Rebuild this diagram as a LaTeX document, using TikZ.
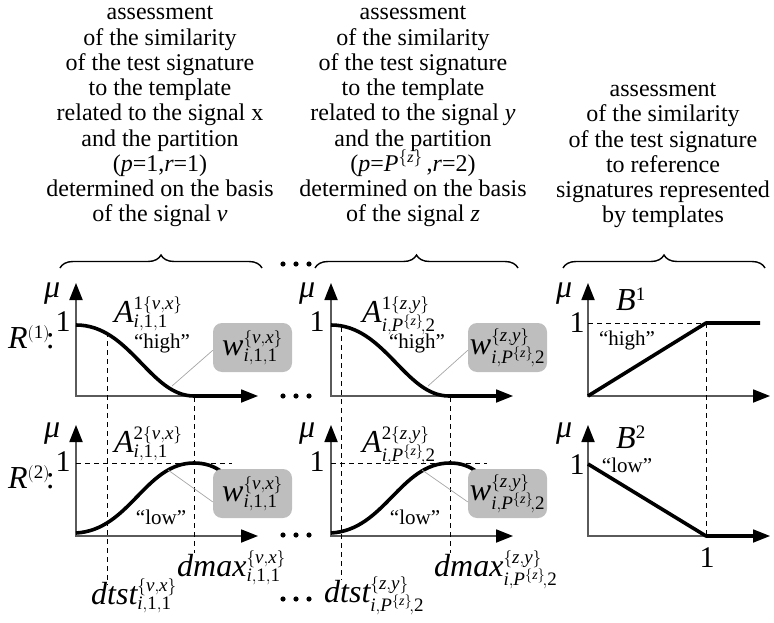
\documentclass[tikz,border=0pt]{standalone}
\usepackage{mathspec}
\setmainfont{Liberation Serif}
\setmathsfont(Digits,Latin,Greek){Liberation Serif}
\DeclareMathSizes{32}{32}{19}{14}
\DeclareMathSizes{24}{24}{16}{12}
\usetikzlibrary{arrows.meta,positioning,decorations.pathreplacing}
\definecolor{boxgray}{HTML}{BEBEBE}
\definecolor{axisgray}{HTML}{5A5A5A}

\begin{document}
\begin{tikzpicture}[x=1pt,y=-1pt,
  head/.style={font=\fontsize{24}{25.25}\selectfont,align=center,anchor=south,inner sep=0pt,text depth=0pt},
  big/.style={font=\fontsize{32}{32}\selectfont,inner sep=0pt},
  digit/.style={font=\fontsize{30}{30}\selectfont,inner sep=0pt},
  tag/.style={font=\fontsize{21}{22}\selectfont,inner sep=0pt},
  axis/.style={draw=axisgray,line width=1.8pt,-{Triangle[length=17pt,width=13pt,color=black]}},
  curve/.style={line width=3.6pt,line join=round},
  guide/.style={dash pattern=on 5pt off 4pt,line width=0.9pt},
  wbox/.style={fill=boxgray,rounded corners=9pt,minimum width=79pt,minimum height=49pt,inner sep=0pt,font=\fontsize{32}{32}\selectfont},
  link/.style={draw=black!35,line width=0.7pt},
  bracket/.style={decorate,decoration={brace,amplitude=13pt},line width=1.4pt}]
\useasboundingbox (0,0) rectangle (774,623);

% headings
\node[head] (hd1) at (160,222) {assessment\\of the similarity\\of the test signature\\to the template\\related to the signal x\\and the partition\\($p$=1,$r$=1)\\determined on the basis\\of the signal \textit{v}};
\node[head] (hd2) at (413,222) {assessment\\of the similarity\\of the test signature\\to the template\\related to the signal \textit{y}\\and the partition\\($p$=\smash{$P^{\{z\}}$}\,,$r$=2)\\determined on the basis\\of the signal \textit{z}};
\node[head] (hd3) at (663,223) {assessment\\of the similarity\\of the test signature\\to reference\\signatures represented\\by templates};
\draw[bracket] (60,268) -- (262,268);
\draw[bracket] (315,268) -- (518,268);
\draw[bracket] (563,268) -- (765,268);

% dots between the columns
\foreach \dy in {264,396,535,599}
  \foreach \dx in {283,296,309}
    \fill (\dx,\dy) circle (2.6);

% axes
\foreach \ox in {76,331,588}
  \foreach \oy/\ty in {396/283,536/425}{
    \draw[axis] (\ox,\oy+0.9) -- (\ox,\ty);
    \draw[axis] (\ox-0.9,\oy) -- (\ox+182,\oy);
  }

% dashed guides
\draw[guide] (107,332) -- (107,585);
\draw[guide] (194,397) -- (194,553);
\draw[guide] (76,463) -- (232,463);
\draw[guide] (341,327) -- (341,580);
\draw[guide] (450,397) -- (450,553);
\draw[guide] (331,463) -- (487,463);
\draw[guide] (588,323) -- (706,323);
\draw[guide] (706,323) -- (706,536);

% membership functions
\draw[curve] (76,325) .. controls (130,325) and (150,396) .. (194,396) -- (241,396);
\draw[curve] (331,325) .. controls (385,325) and (405,396) .. (449,396) -- (496,396);
\draw[curve] (76,533) .. controls (130,530) and (145,463) .. (194,463) .. controls (205,463) and (214,466) .. (222,472);
\draw[curve] (331,533) .. controls (385,530) and (400,463) .. (450,463) .. controls (461,463) and (469,466) .. (477,472);
\draw[curve] (588,396) -- (706,323) -- (760,323);
\draw[curve] (588,464) -- (706,536) -- (753,536);

% weights
\coordinate (c11) at (172,386);
\coordinate (c21) at (168,470);
\coordinate (c12) at (428,386);
\coordinate (c22) at (422,470);
\node[wbox] (w11) at (252.5,347.5) {$w^{\{v,x\}}_{i,1,1}$};
\node[wbox] (w21) at (252.5,493.5) {$w^{\{v,x\}}_{i,1,1}$};
\node[wbox] (w12) at (507.5,347.5) {$w^{\{z,y\}}_{i,P^{\{z\}}\!,2}$};
\node[wbox] (w22) at (507.5,493.5) {$w^{\{z,y\}}_{i,P^{\{z\}}\!,2}$};
\draw[link] (w11.184) -- (c11);
\draw[link] (w21.192) -- (c21);
\draw[link] (w12.184) -- (c12);
\draw[link] (w22.192) -- (c22);

% axis labels
\foreach \ox/\k in {76/a,331/b,588/c}{
  \node[big] (mu1\k) at (\ox-24,294) {$\mu$};
  \node[big] (mu2\k) at (\ox-24,434) {$\mu$};
}
\node[digit] (one1a) at (63,322) {1};
\node[digit] (one2a) at (63,462) {1};
\node[digit] (one1b) at (317,322) {1};
\node[digit] (one2b) at (317,462) {1};
\node[digit] (one1c) at (577,323) {1};
\node[digit] (one2c) at (577,465) {1};
\node[digit] (onex) at (707,558) {1};
\node[big,anchor=base west] (r1) at (8,348) {$R^{(1)}\!$:};
\node[big,anchor=base west] (r2) at (8,488) {$R^{(2)}\!$:};

% fuzzy set names
\node[big,anchor=base west] (a11) at (114,322) {$A^{1\{v,x\}}_{i,1,1}$};
\node[big,anchor=base west] (a21) at (114,452) {$A^{2\{v,x\}}_{i,1,1}$};
\node[big,anchor=base west] (a12) at (362,322) {$A^{1\{z,y\}}_{i,P^{\{z\}}\!,2}$};
\node[big,anchor=base west] (a22) at (362,452) {$A^{2\{z,y\}}_{i,P^{\{z\}}\!,2}$};
\node[big,anchor=base west] (b1) at (616,310) {$B^1$};
\node[big,anchor=base west] (b2) at (616,448) {$B^2$};
\node[tag] (hi1) at (162,343) {``high''};
\node[tag] (hi2) at (417,343) {``high''};
\node[tag] (hi3) at (627,340) {``high''};
\node[tag] (lo1) at (161,517) {``low''};
\node[tag] (lo2) at (415,517) {``low''};
\node[tag] (lo3) at (627,465) {``low''};

% distances
\node[big,anchor=base west] (dmx1) at (177,576) {$dmax^{\{v,x\}}_{i,1,1}$};
\node[big,anchor=base west] (dts1) at (91,604) {$dtst^{\{v,x\}}_{i,1,1}$};
\node[big,anchor=base west] (dmx2) at (434,576) {$dmax^{\{z,y\}}_{i,P^{\{z\}}\!,2}$};
\node[big,anchor=base west] (dts2) at (324,602) {$dtst^{\{z,y\}}_{i,P^{\{z\}}\!,2}$};
\end{tikzpicture}
\end{document}
